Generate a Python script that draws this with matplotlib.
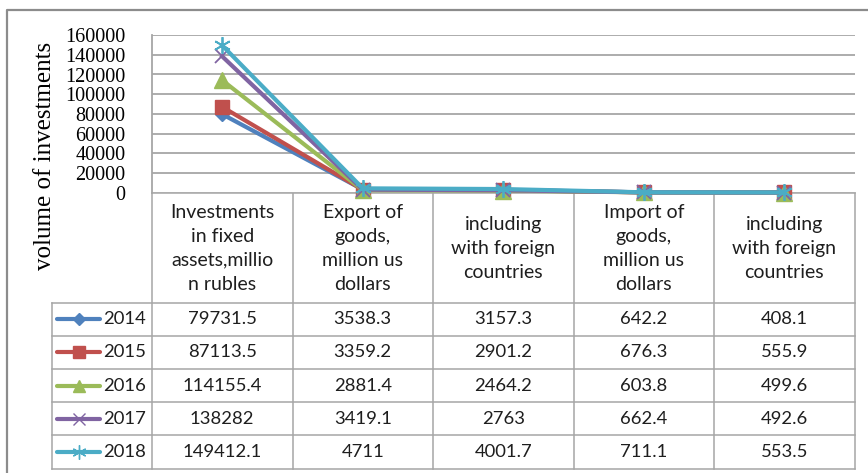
import numpy as np
import matplotlib
matplotlib.use("Agg")
import matplotlib.pyplot as plt
from matplotlib.lines import Line2D

# данные таблицы
categories = ["Investments\nin fixed\nassets,millio\nn rubles",
              "Export of\ngoods,\nmillion us\ndollars",
              "including\nwith foreign\ncountries",
              "Import of\ngoods,\nmillion us\ndollars",
              "including\nwith foreign\ncountries"]
years = ["2014", "2015", "2016", "2017", "2018"]
v2014 = [79731.5, 3538.3, 3157.3, 642.2, 408.1]
v2015 = [87113.5, 3359.2, 2901.2, 676.3, 555.9]
v2016 = [114155.4, 2881.4, 2464.2, 603.8, 499.6]
v2017 = [138282, 3419.1, 2763, 662.4, 492.6]
v2018 = [149412.1, 4711, 4001.7, 711.1, 553.5]
labels2014 = ["79731.5", "3538.3", "3157.3", "642.2", "408.1"]
labels2015 = ["87113.5", "3359.2", "2901.2", "676.3", "555.9"]
labels2016 = ["114155.4", "2881.4", "2464.2", "603.8", "499.6"]
labels2017 = ["138282", "3419.1", "2763", "662.4", "492.6"]
labels2018 = ["149412.1", "4711", "4001.7", "711.1", "553.5"]

series = [v2014, v2015, v2016, v2017, v2018]
cell_text = [labels2014, labels2015, labels2016, labels2017, labels2018]
colors = ["#4F81BD", "#C0504D", "#9BBB59", "#8064A2", "#4BACC6"]
markers = ["D", "s", "^", "x", (6, 2, 0)]
msizes = [7, 10, 11, 10, 12]

W, H = 868, 473
# границы в пикселях
x_left, x_right = 152, 854.5
y_top, y_zero = 35, 193
y_rows = [193, 302.5, 335.7, 368.9, 402.1, 435.3, 468.5]
x_leg = 52
grid_col = "#A6A6A6"
txt_col = "#1E1E1E"

fig = plt.figure(figsize=(W / 100, H / 100), dpi=100)
fig.patch.set_facecolor("white")

# подложка в пикселях: рамка и таблица
bg = fig.add_axes([0, 0, 1, 1])
bg.set_xlim(0, W)
bg.set_ylim(H, 0)
bg.axis("off")
bg.plot([7, 7, W], [H, 10, 10], color="#8C8C8C", lw=1.6)

cols = np.linspace(x_left, x_right, len(categories) + 1)
for x in cols:
    bg.plot([x, x], [y_rows[0], y_rows[-1]], color=grid_col, lw=1.1)
bg.plot([x_leg, x_leg], [y_rows[1], y_rows[-1]], color=grid_col, lw=1.1)
for i, y in enumerate(y_rows):
    x0 = x_left if i == 0 else x_leg
    bg.plot([x0, x_right], [y, y], color=grid_col, lw=1.1)

centers = (cols[:-1] + cols[1:]) / 2
for c, txt in zip(centers, categories):
    bg.text(c, (y_rows[0] + y_rows[1]) / 2 + 0.5, txt, ha="center", va="center",
            fontsize=14, family="Lato", color=txt_col, linespacing=1.5)

for r in range(len(years)):
    yc = (y_rows[r + 1] + y_rows[r + 2]) / 2
    for c, txt in zip(centers, cell_text[r]):
        bg.text(c, yc, txt, ha="center", va="center", fontsize=13.3,
                family="Lato", color=txt_col)
    bg.add_line(Line2D([57, 100], [yc, yc], color=colors[r], lw=3,
                       solid_capstyle="round"))
    bg.add_line(Line2D([78.5], [yc], marker=markers[r],
                       markersize=msizes[r] * 0.85, color=colors[r],
                       markeredgewidth=1.0))
    bg.text(103, yc, years[r], ha="left", va="center", fontsize=13.3,
            family="Lato", color=txt_col)

# основная область графика
ax = fig.add_axes([x_left / W, 1 - y_zero / H, (x_right - x_left) / W,
                   (y_zero - y_top) / H])
ax.set_xlim(-0.5, len(categories) - 0.5)
ax.set_ylim(0, 160000)
ax.set_yticks(np.arange(0, 160001, 20000))
ax.set_xticks([])
ax.yaxis.grid(True, color=grid_col, lw=1.3)
ax.set_axisbelow(True)
for s in ["top", "right", "bottom"]:
    ax.spines[s].set_visible(False)
ax.spines["left"].set_color(grid_col)
ax.spines["left"].set_linewidth(1.3)
ax.tick_params(axis="y", length=0, pad=19, labelsize=14.5)
for lab in ax.get_yticklabels():
    lab.set_family("Liberation Serif")

xs = np.arange(len(categories))
for r, vals in enumerate(series):
    ax.plot(xs, vals, color=colors[r], lw=3, marker=markers[r],
            markersize=msizes[r], markeredgewidth=1.0 if r < 3 else 1.3,
            clip_on=False, zorder=3 + r)

fig.text(45 / W, 1 - 156 / H, "volume of investments", rotation=90,
         ha="center", va="center", fontsize=18, family="Liberation Serif")

fig.savefig("out.png", dpi=100)
